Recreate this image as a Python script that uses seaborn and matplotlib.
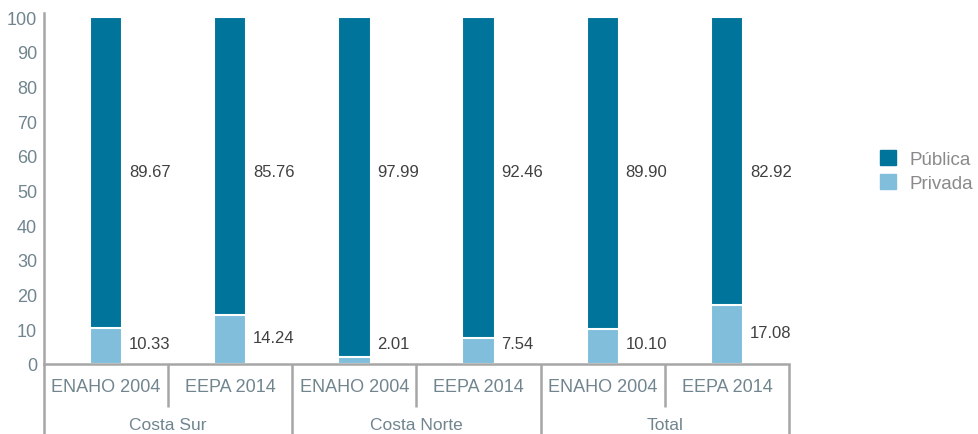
import matplotlib
matplotlib.use("Agg")
import matplotlib.pyplot as plt
import matplotlib.patches as mpatches
import pandas as pd
import seaborn as sns

surveys = ["ENAHO 2004", "EEPA 2014", "ENAHO 2004", "EEPA 2014", "ENAHO 2004", "EEPA 2014"]
regions = ["Costa Sur", "Costa Norte", "Total"]
publica = [89.67, 85.76, 97.99, 92.46, 89.90, 82.92]
privada = [10.33, 14.24, 2.01, 7.54, 10.10, 17.08]

col_pub = "#00749a"
col_priv = "#80bedb"
axis_col = "#a6a6a6"
tick_col = "#71858f"
label_col = "#404040"

sns.set_theme(style="white")
plt.rcParams["font.family"] = ["Liberation Sans", "DejaVu Sans"]

frame = pd.DataFrame({
    "slot": [f"{i}" for i in range(len(surveys))],
    "total": [a + b for a, b in zip(publica, privada)],
    "privada": privada,
})

fig = plt.figure(figsize=(9.79, 4.35), dpi=100)
ax = fig.add_axes([44 / 979, 70 / 435, 745 / 979, 351 / 435])

sns.barplot(data=frame, x="slot", y="total", color=col_pub, width=0.26,
            saturation=1, edgecolor="white", linewidth=1.5, ax=ax)
sns.barplot(data=frame, x="slot", y="privada", color=col_priv, width=0.26,
            saturation=1, edgecolor="white", linewidth=1.5, ax=ax)

ax.set_ylim(0, 101.2)
ax.set_xlim(-0.5, len(surveys) - 0.5)
ax.set_yticks(range(0, 101, 10))
ax.tick_params(axis="y", length=0, pad=5, labelsize=13, labelcolor=tick_col)
ax.set_xticks([])
ax.set_xlabel("")
ax.set_ylabel("")
for side in ["right", "top"]:
    ax.spines[side].set_visible(False)
for side in ["left", "bottom"]:
    ax.spines[side].set_color(axis_col)
    ax.spines[side].set_linewidth(1.8)

# value labels next to each bar
for i in range(len(surveys)):
    ax.text(i + 0.185, 55.5, f"{publica[i]:.2f}",
            ha="left", va="center", fontsize=12, color=label_col)
    ax.text(i + 0.185, max(privada[i] / 2 + 0.5, 5.8), f"{privada[i]:.2f}",
            ha="left", va="center", fontsize=12, color=label_col)

# two-level category axis
trans = ax.get_xaxis_transform()
h = 351.0
for i, name in enumerate(surveys):
    ax.text(i, -23 / h, name, transform=trans, ha="center", va="center",
            fontsize=13, color=tick_col)
for g, name in enumerate(regions):
    ax.text(2 * g + 0.5, -61 / h, name, transform=trans, ha="center", va="center",
            fontsize=12.5, color=tick_col)
for k in range(len(surveys) + 1):
    x = k - 0.5
    low = -70 / h if k % 2 == 0 else -43 / h
    ax.plot([x, x], [0, low], transform=trans, color=axis_col, lw=1.8,
            clip_on=False, solid_capstyle="butt")

handles = [mpatches.Patch(color=col_pub, label="Pública"),
           mpatches.Patch(color=col_priv, label="Privada")]
fig.legend(handles=handles, loc="center left", bbox_to_anchor=(880 / 979, 1 - 172 / 435),
           frameon=False, fontsize=13.5, labelcolor="#8a8a8a", handlelength=0.85,
           handleheight=0.85, handletextpad=0.75, labelspacing=0.3,
           borderpad=0, borderaxespad=0)

fig.savefig("out.png", dpi=100)
